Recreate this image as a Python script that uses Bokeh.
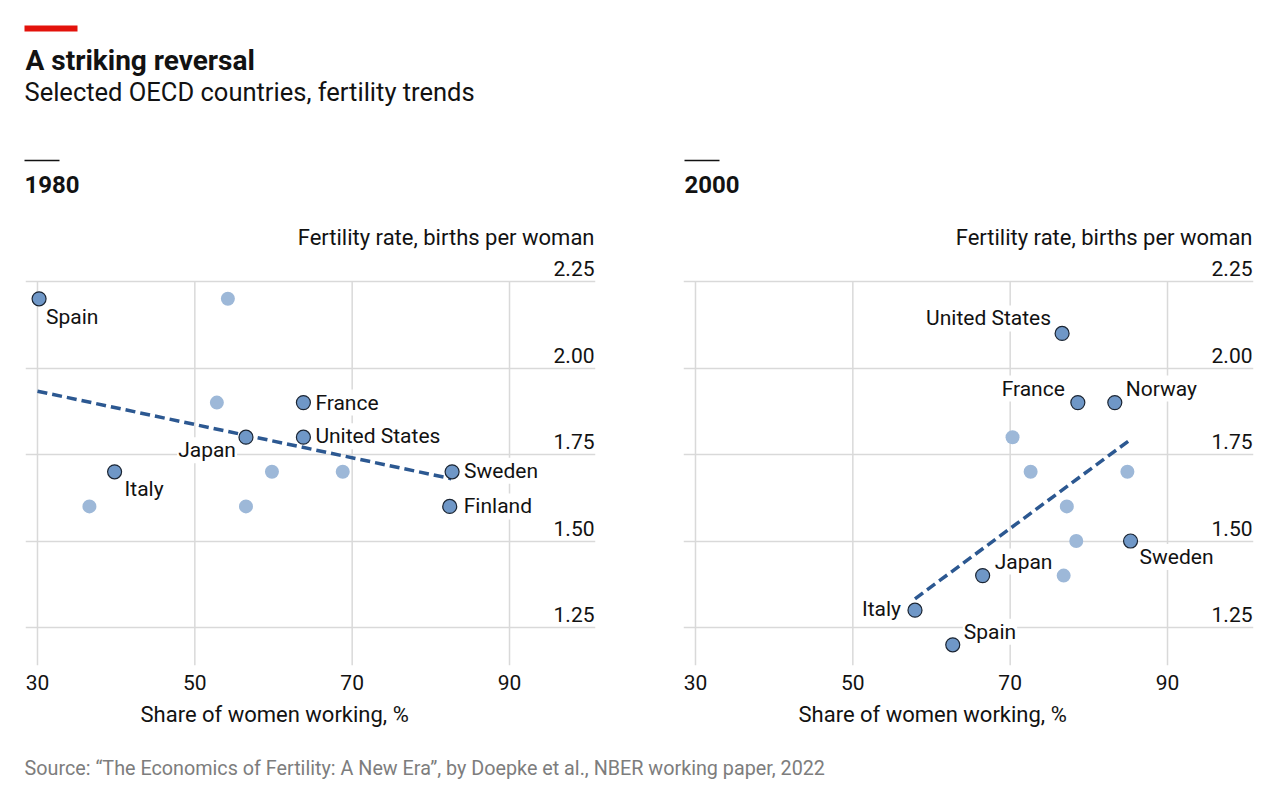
from bokeh.plotting import figure
from bokeh.layouts import column, row
from bokeh.models import Range1d, FixedTicker, ColumnDataSource, Grid, Title
from bokeh.embed import file_html
from bokeh.resources import INLINE
from bokeh.core.properties import value

# ---------------- data ----------------
x_ticks = [30, 50, 70, 90]
y_ticks = [1.25, 1.50, 1.75, 2.00, 2.25]

# 1980: labelled countries
names_1980 = ["Spain", "France", "Japan", "United States", "Italy", "Sweden", "Finland"]
work_1980 = [30.2, 63.8, 56.5, 63.8, 39.8, 82.7, 82.4]
fert_1980 = [2.20, 1.90, 1.80, 1.80, 1.70, 1.70, 1.60]
# 1980: other countries
work_1980_other = [54.2, 52.8, 59.8, 68.8, 36.6, 56.5]
fert_1980_other = [2.20, 1.90, 1.70, 1.70, 1.60, 1.60]
# 1980: fitted trend
trend_1980_x = [30.0, 82.6]
trend_1980_y = [1.933, 1.680]

# 2000: labelled countries
names_2000 = ["United States", "France", "Norway", "Sweden", "Japan", "Italy", "Spain"]
work_2000 = [76.6, 78.6, 83.3, 85.3, 66.5, 57.9, 62.7]
fert_2000 = [2.10, 1.90, 1.90, 1.50, 1.40, 1.30, 1.20]
# 2000: other countries
work_2000_other = [70.3, 72.6, 84.9, 77.2, 78.4, 76.8]
fert_2000_other = [1.80, 1.70, 1.70, 1.60, 1.50, 1.40]
# 2000: fitted trend
trend_2000_x = [57.9, 85.4]
trend_2000_y = [1.333, 1.795]

years = ["1980", "2000"]
x_title = "Share of women working, %"
y_title = "Fertility rate, births per woman"

# ---------------- style ----------------
FONT = "Roboto"
INK = "#121212"
GRID = "#d9d9d9"
DOT_LAB = "#6f97c7"
DOT_OTH = "#9db8d8"
DOT_EDGE = "#1b2533"
TREND = "#2c5891"
RED = "#e3120b"
SRC = "#7d7d7d"

# label placement: (align, x offset px, y offset px)
place_1980 = {"Spain": ("left", 6, 18), "France": ("left", 11, 0), "Japan": ("right", -9, 13),
              "United States": ("left", 11, -1), "Italy": ("left", 9, 17),
              "Sweden": ("left", 11, -1), "Finland": ("left", 13, 0)}
place_2000 = {"United States": ("right", -10, -15), "France": ("right", -12, -14),
              "Norway": ("left", 10, -14), "Sweden": ("left", 8, 16), "Japan": ("left", 11, -14),
              "Italy": ("right", -13, -1), "Spain": ("left", 10, -13)}

FRAME_W = 570
X0, X1 = 28.475, 100.93
Y0, Y1 = 1.1402, 2.4408
X_TITLE_HALF_W = 133  # approx. half width of the x title in pixels


def panel(width, bl, br, names, xs, ys, place, xo, yo, tx, ty):
    p = figure(width=width, height=525, x_range=Range1d(X0, X1), y_range=Range1d(Y0, Y1),
               title=None, output_backend="svg", toolbar_location=None, y_axis_location=None,
               min_border_left=bl, min_border_right=br, min_border_top=0, min_border_bottom=75)
    p.outline_line_color = None
    p.background_fill_color = "white"
    p.border_fill_color = "white"
    for g in list(p.xgrid) + list(p.ygrid):
        g.visible = False
    p.add_layout(Grid(dimension=1, ticker=FixedTicker(ticks=y_ticks),
                      grid_line_color=GRID, grid_line_width=1.5), "center")
    # vertical grid lines stop at the top tick
    p.segment(x0=x_ticks, x1=x_ticks, y0=[Y0] * len(x_ticks), y1=[max(y_ticks)] * len(x_ticks),
              line_color=GRID, line_width=1.5)

    # x axis
    ax = p.xaxis[0]
    ax.ticker = FixedTicker(ticks=x_ticks)
    ax.axis_line_color = None
    ax.major_tick_line_color = None
    ax.minor_tick_line_color = None
    ax.major_tick_out = 0
    ax.major_tick_in = 0
    ax.major_label_standoff = 9
    ax.major_label_text_font = FONT
    ax.major_label_text_font_size = "21px"
    ax.major_label_text_color = INK
    # x axis title, centred on the span of the ticks
    mid = (min(x_ticks) + max(x_ticks)) / 2
    mid_px = (mid - X0) * FRAME_W / (X1 - X0)
    p.add_layout(Title(text=x_title, align="left", offset=mid_px - X_TITLE_HALF_W, standoff=14,
                       text_font=FONT, text_font_size="22px", text_font_style="normal",
                       text_color=INK), "below")

    # y tick labels and title (inside frame, above gridlines)
    p.text(x=[X1] * len(y_ticks), y=y_ticks, text=[f"{t:.2f}" for t in y_ticks],
           text_align="right", text_baseline="middle", x_offset=-1, y_offset=-13,
           text_font=value(FONT), text_font_size=value("21px"), text_color=INK)
    p.text(x=[X1], y=[max(y_ticks)], text=[y_title],
           text_align="right", text_baseline="middle", x_offset=-1, y_offset=-44,
           text_font=value(FONT), text_font_size=value("22px"), text_color=INK)

    # country labels
    src = ColumnDataSource(dict(
        x=xs, y=ys, name=names,
        align=[place[n][0] for n in names],
        dx=[place[n][1] for n in names],
        dy=[place[n][2] for n in names]))
    p.text(x="x", y="y", text="name", source=src, text_align="align", text_baseline="middle",
           x_offset="dx", y_offset="dy", text_font=value(FONT), text_font_size=value("21px"),
           text_color=INK, background_fill_color="white", padding=1)

    # trend
    p.line(tx, ty, line_color=TREND, line_width=3.5, line_dash="10 5")
    # dots
    p.scatter(xo, yo, size=14, fill_color=DOT_OTH, line_color=None)
    p.scatter(x="x", y="y", source=src, size=14, fill_color=DOT_LAB, line_color=DOT_EDGE,
              line_width=1.2)
    return p


p1 = panel(668, 25, 73, names_1980, work_1980, fert_1980, place_1980,
           work_1980_other, fert_1980_other, trend_1980_x, trend_1980_y)
p2 = panel(604, 15, 19, names_2000, work_2000, fert_2000, place_2000,
           work_2000_other, fert_2000_other, trend_2000_x, trend_2000_y)


def blank(w, h):
    f = figure(width=w, height=h, x_range=Range1d(0, w), y_range=Range1d(h, 0), title=None,
               output_backend="svg", toolbar_location=None, x_axis_location=None,
               y_axis_location=None, min_border=0)
    f.outline_line_color = None
    for g in list(f.xgrid) + list(f.ygrid):
        g.visible = False
    return f


# header (coordinates in pixels)
head = blank(1272, 215)
head.quad(left=[24], right=[77], top=[25], bottom=[31], fill_color=RED, line_color=None)
head.text(x=[25], y=[60], text=["A striking reversal"], text_baseline="middle",
          text_font=value(FONT), text_font_size=value("28px"), text_font_style="bold",
          text_color=INK)
head.text(x=[24], y=[91], text=["Selected OECD countries, fertility trends"],
          text_baseline="middle", text_font=value(FONT), text_font_size=value("25.5px"),
          text_color=INK)
year_x = [24, 684]
head.segment(x0=year_x, x1=[v + 35 for v in year_x], y0=[160, 160], y1=[160, 160],
             line_color=INK, line_width=1.5)
head.text(x=year_x, y=[184, 184], text=years, text_baseline="middle",
          text_font=value(FONT), text_font_size=value("24px"), text_font_style="bold",
          text_color=INK)

# footer
foot = blank(1272, 60)
foot.text(x=[24], y=[28],
          text=["Source: \u201cThe Economics of Fertility: A New Era\u201d, by Doepke et al., NBER working paper, 2022"],
          text_baseline="middle", text_font=value(FONT), text_font_size=value("19.75px"),
          text_color=SRC)

layout = column(head, row(p1, p2), foot)
open("out.html", "w").write(file_html(layout, INLINE))
